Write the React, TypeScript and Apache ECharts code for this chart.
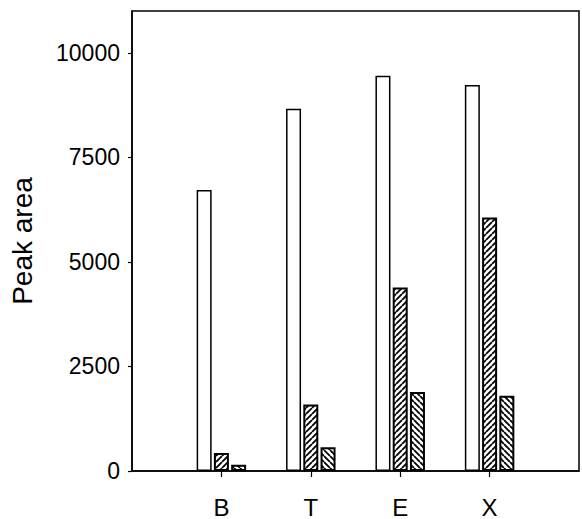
import React, { useEffect, useRef } from "react";
import * as echarts from "echarts";

const categories = ["", "B", "T", "E", "X", ""];
const openBars = [null, 6720, 8660, 9450, 9230, null];
const hatchUpBars = [null, 430, 1590, 4390, 6060, null];
const hatchDownBars = [null, 150, 565, 1890, 1800, null];
const yTicks = [0, 2500, 5000, 7500, 10000];

function makeHatch(up: boolean) {
  const s = 6;
  const c = document.createElement("canvas");
  c.width = s;
  c.height = s;
  const ctx = c.getContext("2d")!;
  ctx.fillStyle = "#fff";
  ctx.fillRect(0, 0, s, s);
  ctx.strokeStyle = "#000";
  ctx.lineWidth = 1.8;
  ctx.beginPath();
  for (const k of [-s, 0, s]) {
    if (up) {
      ctx.moveTo(k, s);
      ctx.lineTo(k + s, 0);
    } else {
      ctx.moveTo(k, 0);
      ctx.lineTo(k + s, s);
    }
  }
  ctx.stroke();
  return c;
}

export default function App() {
  const ref = useRef<HTMLDivElement>(null);
  useEffect(() => {
    const chart = echarts.init(ref.current!, null, { renderer: "svg" });
    const font = "Liberation Sans, Arial, sans-serif";
    chart.setOption({
      animation: false,
      backgroundColor: "#fff",
      grid: {
        left: 131,
        top: 11,
        right: 1,
        bottom: 47,
        show: true,
        borderColor: "#000",
        borderWidth: 1.5,
        backgroundColor: "transparent",
      },
      xAxis: {
        type: "category",
        data: categories,
        boundaryGap: false,
        axisLine: { show: true, lineStyle: { color: "#000", width: 1.5 } },
        axisTick: {
          show: true,
          length: 6,
          interval: (i: number) => i > 0 && i < categories.length - 1,
          lineStyle: { color: "#000", width: 1.2 },
        },
        axisLabel: {
          color: "#000",
          fontFamily: font,
          fontSize: 24,
          margin: 24,
          interval: 0,
        },
        splitLine: { show: false },
      },
      yAxis: {
        type: "value",
        min: 0,
        max: 11000,
        interval: 2500,
        name: "Peak area",
        nameLocation: "middle",
        nameRotate: 90,
        nameGap: 96,
        nameTextStyle: { color: "#000", fontFamily: font, fontSize: 28 },
        axisLine: { show: true, lineStyle: { color: "#000", width: 1.5 } },
        axisTick: { show: true, length: 4, lineStyle: { color: "#000", width: 1.2 } },
        axisLabel: {
          color: "#000",
          fontFamily: font,
          fontSize: 23,
          margin: 12,
          showMaxLabel: false,
          formatter: (v: number) => (yTicks.includes(v) ? String(v) : ""),
        },
        splitLine: { show: false },
      },
      series: [
        {
          type: "bar",
          data: openBars,
          barWidth: 15,
          barGap: "15%",
          itemStyle: { color: "#fff", borderColor: "#000", borderWidth: 1.5 },
        },
        {
          type: "bar",
          data: hatchUpBars,
          barWidth: 15,
          barGap: "15%",
          itemStyle: {
            color: { image: makeHatch(true), repeat: "repeat" },
            borderColor: "#000",
            borderWidth: 2,
          },
        },
        {
          type: "bar",
          data: hatchDownBars,
          barWidth: 15,
          barGap: "15%",
          itemStyle: {
            color: { image: makeHatch(false), repeat: "repeat" },
            borderColor: "#000",
            borderWidth: 2,
          },
        },
      ],
    });
    return () => chart.dispose();
  }, []);
  return (
    <div
      ref={ref}
      style={{ position: "fixed", left: 0, top: 0, width: 582, height: 519, background: "#fff" }}
    />
  );
}
